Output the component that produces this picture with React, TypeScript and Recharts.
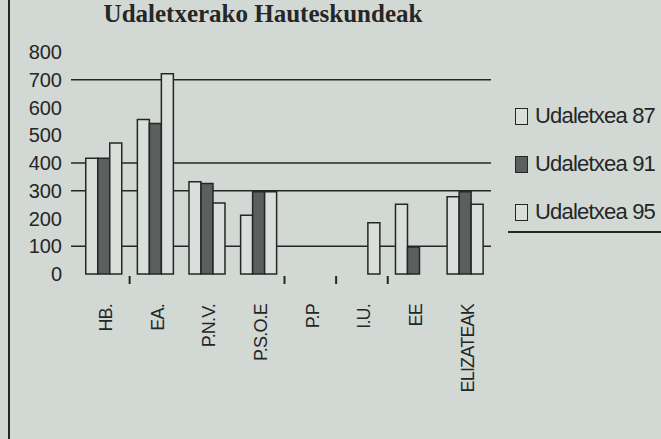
import { BarChart, Bar, XAxis, YAxis, CartesianGrid, Legend } from 'recharts';

const categories = ['HB.', 'EA.', 'P.N.V.', 'P.S.O.E', 'P.P', 'I.U.', 'EE', 'ELIZATEAK'];
const udaletxea87 = [417, 557, 332, 212, 0, 0, 251, 278];
const udaletxea91 = [417, 542, 326, 296, 0, 0, 97, 296];
const udaletxea95 = [472, 722, 256, 296, 0, 185, 0, 251];
const yTicks = [0, 100, 200, 300, 400, 500, 600, 700, 800];
const gridValues = [100, 300, 400, 700];
// only some category boundaries show a tick mark in the scan
const edgeTicks = ['EA.', 'P.P', 'I.U.', 'EE'];

const COLORS = {
  bg: '#d2d9d4',
  light: '#dadfdb',
  dark: '#5c5f5d',
  ink: '#262626',
};

const SANS = '"Liberation Sans", Arial, sans-serif';
const W = 661;
const H = 439;
const MARGIN = { top: 52, right: 170, left: 8, bottom: 0 };
const Y_WIDTH = 63;
const PAD_LEFT = 7;
const HALF_BAND = (W - MARGIN.left - MARGIN.right - Y_WIDTH - PAD_LEFT) / categories.length / 2;

const data = categories.map((name, i) => ({
  name,
  u87: udaletxea87[i],
  u91: udaletxea91[i],
  u95: udaletxea95[i],
}));

function CategoryTick(props: any) {
  const { x, y, payload } = props;
  const cx = Number(x);
  const cy = Number(y);
  const showEdge = edgeTicks.indexOf(String(payload.value)) >= 0;
  return (
    <g>
      {showEdge ? (
        <rect x={cx - HALF_BAND - 1} y={cy} width={2} height={8} fill={COLORS.ink} stroke="none" />
      ) : null}
      <text
        transform={`translate(${cx + 2},${cy + 28}) rotate(-90)`}
        textAnchor="end"
        dy="0.35em"
        fontSize={18}
        letterSpacing={-0.8}
        fontFamily={SANS}
        fill={COLORS.ink}
        stroke="none"
      >
        {payload.value}
      </text>
    </g>
  );
}

function SeriesLegend({ payload }: any) {
  return (
    <div style={{ fontFamily: SANS }}>
      {(payload || []).map((p: any) => (
        <div key={p.value} style={{ display: 'flex', alignItems: 'center', height: 48 }}>
          <span
            style={{
              width: 11,
              height: 15,
              border: `1.5px solid ${COLORS.ink}`,
              background: p.color,
              display: 'inline-block',
            }}
          />
          <span style={{ marginLeft: 7, fontSize: 22, letterSpacing: -0.8, color: COLORS.ink }}>{p.value}</span>
        </div>
      ))}
    </div>
  );
}

export default function App() {
  return (
    <div
      style={{
        position: 'fixed',
        left: 0,
        top: 0,
        width: W,
        height: H,
        background: COLORS.bg,
        overflow: 'hidden',
      }}
    >
      <div style={{ position: 'absolute', left: 8, top: 0, width: 2, height: H, background: COLORS.ink }} />
      <div
        style={{
          position: 'absolute',
          left: 0,
          top: 0,
          width: 526,
          textAlign: 'center',
          fontFamily: '"Liberation Serif", "Times New Roman", serif',
          fontWeight: 'bold',
          fontSize: 25,
          lineHeight: '28px',
          color: COLORS.ink,
        }}
      >
        Udaletxerako Hauteskundeak
      </div>
      <div style={{ position: 'absolute', left: 508, top: 231, width: 153, height: 2, background: COLORS.ink }} />
      <div style={{ position: 'absolute', left: 0, top: 0 }}>
        <BarChart width={W} height={H} data={data} margin={MARGIN} barCategoryGap="15%" barGap={0}>
          <CartesianGrid
            vertical={false}
            horizontalValues={gridValues}
            stroke={COLORS.ink}
            strokeWidth={1.5}
          />
          <XAxis
            dataKey="name"
            interval={0}
            height={165}
            padding={{ left: PAD_LEFT, right: 0 }}
            axisLine={false}
            tickLine={false}
            tickSize={0}
            tick={(p: any) => <CategoryTick {...p} />}
          />
          <YAxis
            domain={[0, 800]}
            ticks={yTicks}
            interval={0}
            width={Y_WIDTH}
            axisLine={false}
            tickLine={false}
            tickSize={0}
            tickMargin={9}
            tick={{ fontSize: 20, fill: COLORS.ink, fontFamily: SANS }}
          />
          <Legend
            layout="horizontal"
            verticalAlign="middle"
            content={<SeriesLegend />}
            wrapperStyle={{ position: 'absolute', left: 515, top: 92, width: 146 }}
          />
          <Bar dataKey="u87" name="Udaletxea 87" fill={COLORS.light} stroke={COLORS.ink} strokeWidth={1.5} isAnimationActive={false} />
          <Bar dataKey="u91" name="Udaletxea 91" fill={COLORS.dark} stroke={COLORS.ink} strokeWidth={1.5} isAnimationActive={false} />
          <Bar dataKey="u95" name="Udaletxea 95" fill={COLORS.light} stroke={COLORS.ink} strokeWidth={1.5} isAnimationActive={false} />
        </BarChart>
      </div>
    </div>
  );
}
